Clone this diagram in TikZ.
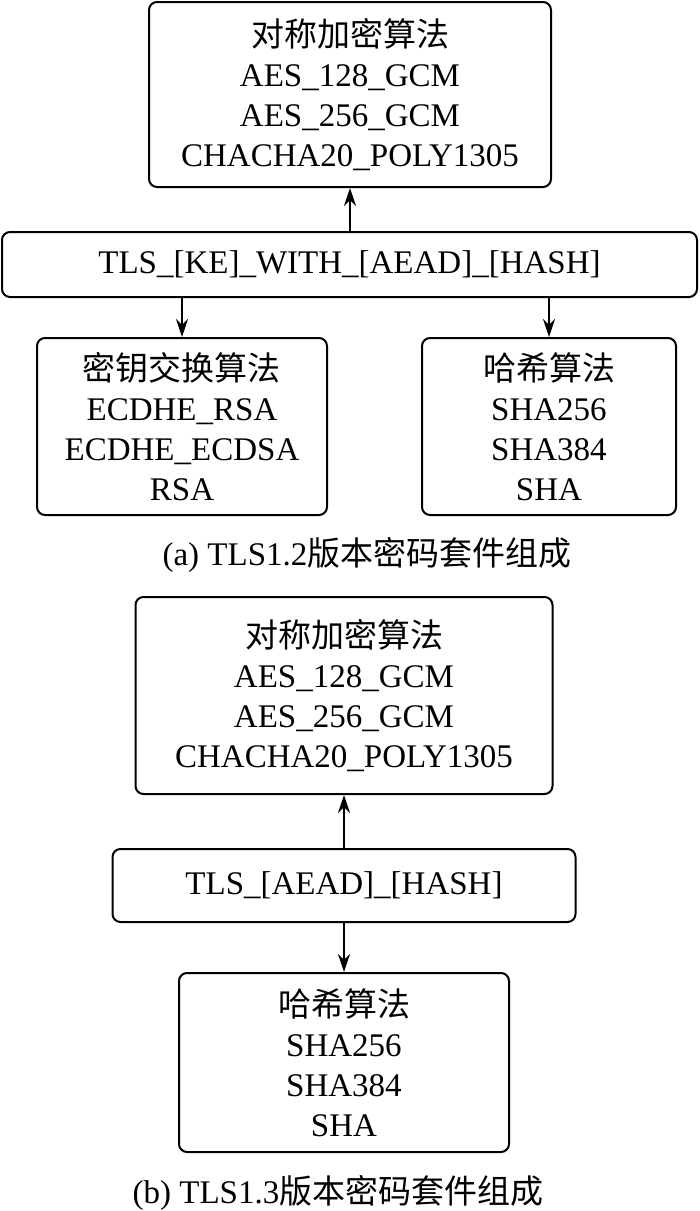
\documentclass[tikz,border=0pt]{standalone}
\usepackage{fontspec}
\setmainfont{Liberation Serif}
\newfontfamily\cjk{Noto Sans CJK SC}
\usetikzlibrary{arrows.meta}

\begin{document}
\begin{tikzpicture}[x=0.5pt,y=-0.5pt,
    algbox/.style={draw,rounded corners=4pt,line width=1pt,align=center,inner sep=0pt},
    arr/.style={-{Stealth[length=9pt,width=6pt]},line width=1pt},
    font=\fontsize{16.5}{20}\selectfont]
    \useasboundingbox (0,0) rectangle (700,1211);
    \node[algbox,minimum width=201pt,minimum height=92.5pt] (symA) at (350,94.5)
        {{\cjk 对称加密算法}\\AES\_128\_GCM\\AES\_256\_GCM\\CHACHA20\_POLY1305};
    \node[algbox,minimum width=347.5pt,minimum height=32.5pt] (tls12) at (349.5,264.5)
        {TLS\_[KE]\_WITH\_[AEAD]\_[HASH]};
    \node[algbox,minimum width=145pt,minimum height=88.5pt] (keA) at (182,426.5)
        {{\cjk 密钥交换算法}\\ECDHE\_RSA\\ECDHE\_ECDSA\\RSA};
    \node[algbox,minimum width=127pt,minimum height=88.5pt] (hashA) at (549,426.5)
        {{\cjk 哈希算法}\\SHA256\\SHA384\\SHA};
    \node (capA) at (367,555) {(a) TLS1.2{\cjk 版本密码套件组成}};
    \draw[arr] (symA.south |- tls12.north) -- (symA.south);
    \draw[arr] (keA.north |- tls12.south) -- (keA.north);
    \draw[arr] (hashA.north |- tls12.south) -- (hashA.north);

    \node[algbox,minimum width=208.5pt,minimum height=98.5pt] (symB) at (344,695.5)
        {{\cjk 对称加密算法}\\AES\_128\_GCM\\AES\_256\_GCM\\CHACHA20\_POLY1305};
    \node[algbox,minimum width=231.5pt,minimum height=36.5pt] (tls13) at (344,885.5)
        {TLS\_[AEAD]\_[HASH]};
    \node[algbox,minimum width=165pt,minimum height=89.5pt] (hashB) at (344,1062.5)
        {{\cjk 哈希算法}\\SHA256\\SHA384\\SHA};
    \node (capB) at (338,1193) {(b) TLS1.3{\cjk 版本密码套件组成}};
    \draw[arr] (symB.south |- tls13.north) -- (symB.south);
    \draw[arr] (hashB.north |- tls13.south) -- (hashB.north);
\end{tikzpicture}
\end{document}
